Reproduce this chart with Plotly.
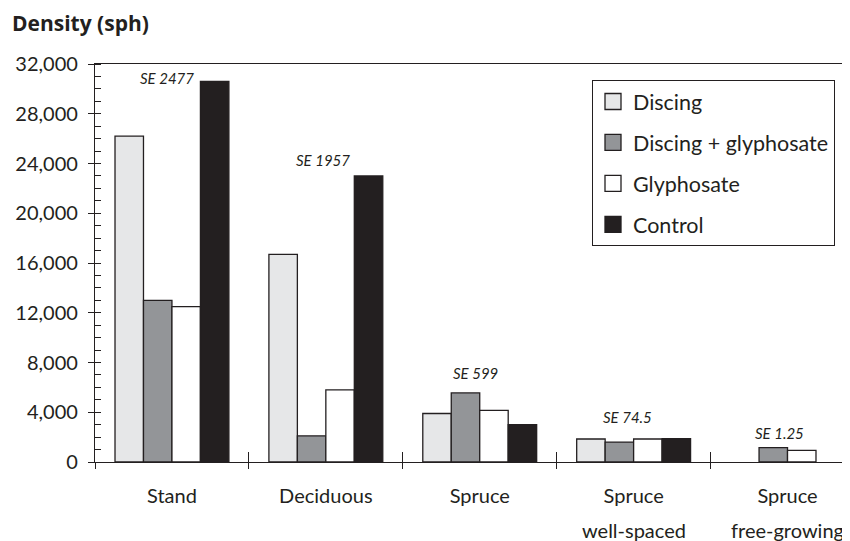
import plotly.graph_objects as go

# ---- data ----
categories = ["Stand", "Deciduous", "Spruce", "Spruce", "Spruce"]
qualifiers = ["", "", "", "well-spaced", "free-growing"]
series_names = ["Discing", "Discing + glyphosate", "Glyphosate", "Control"]
discing = [26200, 16700, 3900, 1850, None]
discing_glyphosate = [13000, 2100, 5550, 1600, 1150]
glyphosate = [12500, 5800, 4150, 1850, 930]
control = [30600, 23000, 3000, 1870, None]
se_labels = ["SE 2477", "SE 1957", "SE 599", "SE 74.5", "SE 1.25"]
y_tick_values = [0, 4000, 8000, 12000, 16000, 20000, 24000, 28000, 32000]

# ---- style ----
INK = "#231f20"
colors = ["#e6e7e8", "#939598", "#ffffff", INK]
FONT = "Lato"
series = [discing, discing_glyphosate, glyphosate, control]

# page body has an 8px margin, so the figure is sized/offset to compensate
W, H = 842, 533

x_idx = list(range(len(categories)))
boundaries = [i - 0.5 for i in range(len(categories) + 1)]
x_range = [-0.5, 4.406]

fig = go.Figure()
for name, vals, col in zip(series_names, series, colors):
    fig.add_trace(go.Bar(
        x=x_idx, y=vals, name=name, marker=dict(color=col, line=dict(color=INK, width=1.3)),
        showlegend=False,
    ))
# legend entries
for i, (name, col) in enumerate(zip(series_names, colors)):
    fig.add_trace(go.Scatter(
        x=[None], y=[None], mode="markers", name=name, legendgroup=f"g{i}",
        marker=dict(symbol="square", size=16, color=col, line=dict(color=INK, width=1.3)),
    ))
# helper trace for overlay axis
fig.add_trace(go.Scatter(x=[None], y=[None], xaxis="x2", showlegend=False, hoverinfo="skip"))

# SE label positions (label placement, data units)
se_pos = [(0.155, 30840, "right"), (-0.02, 24260, "center"), (-0.03, 7190, "center"),
          (-0.04, 3580, "center"), (-0.05, 2330, "center")]
annotations = []
for i, (lab, (dx, yy, anc)) in enumerate(zip(se_labels, se_pos)):
    annotations.append(dict(x=i + dx, y=yy, xref="x", yref="y", text=f"<i>{lab}</i>",
                            showarrow=False, xanchor=anc, yanchor="middle",
                            font=dict(family=FONT, size=15, color=INK)))
for i, q in enumerate(qualifiers):
    if q:
        annotations.append(dict(x=i, y=-0.17, xref="x", yref="paper", text=q, showarrow=False,
                                xanchor="center", yanchor="middle",
                                font=dict(family=FONT, size=20, color=INK)))

fig.update_layout(
    width=W, height=H,
    margin=dict(l=87, r=0, t=56, b=79, autoexpand=False),
    paper_bgcolor="white", plot_bgcolor="white",
    barmode="group", bargap=0.26, bargroupgap=0,
    font=dict(family=FONT, size=20, color=INK),
    title=dict(text="<b>Density (sph)</b>", x=4 / W, xref="container", xanchor="left",
               y=1 - 16 / H, yref="container", yanchor="middle",
               font=dict(family="Open Sans", size=21, color=INK)),
    xaxis=dict(range=x_range, tickmode="array", tickvals=x_idx, ticktext=categories,
               ticks="", showgrid=False, zeroline=False, showline=True, linecolor=INK,
               linewidth=1.3, mirror=True, ticklabelstandoff=16, automargin=False,
               minor=dict(tickmode="array", tickvals=boundaries, ticks="outside", ticklen=6,
                          tickcolor=INK, tickwidth=1.3, showgrid=False),
               tickfont=dict(family=FONT, size=20, color=INK)),
    xaxis2=dict(overlaying="x", anchor="y", range=x_range, tickmode="array", tickvals=boundaries,
                ticks="inside", ticklen=10, tickcolor=INK, tickwidth=1.3, showticklabels=False,
                showgrid=False, zeroline=False, showline=False, automargin=False),
    yaxis=dict(range=[0, 32000], tickmode="array", tickvals=y_tick_values, tickformat=",d",
               ticks="outside", ticklen=6, tickcolor=INK, tickwidth=1.3, automargin=False,
               showgrid=False, zeroline=False, showline=True, linecolor=INK, linewidth=1.3,
               ticklabelstandoff=6,
               minor=dict(dtick=1000, tick0=0, ticks="inside", ticklen=6, tickcolor=INK,
                          tickwidth=1.3, showgrid=False),
               tickfont=dict(family=FONT, size=20, color=INK)),
    legend=dict(x=(592 - 95) / 755, y=1 - 16 / 398, xref="paper", yref="paper",
                xanchor="left", yanchor="top", bgcolor="white", bordercolor=INK, borderwidth=1,
                font=dict(family=FONT, size=21.5, color=INK), tracegroupgap=10, itemwidth=30),
    annotations=annotations,
)

fig.write_html("out.html")
